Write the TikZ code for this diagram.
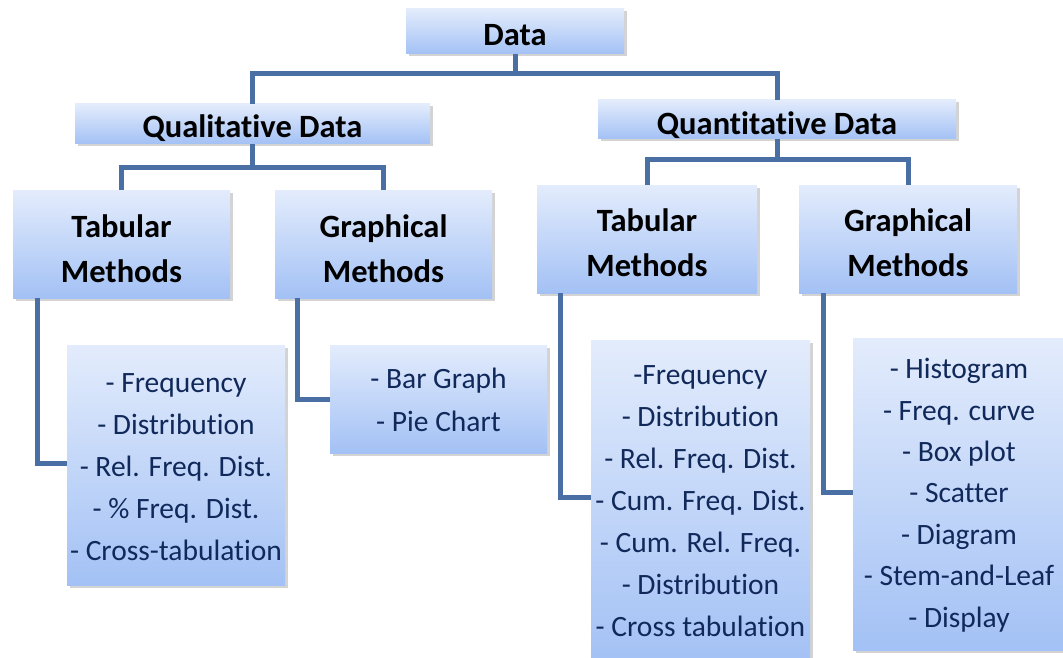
\documentclass[tikz,border=0pt]{standalone}
\usepackage{fontspec}
\setmainfont{Carlito}[Ligatures=NoCommon]
\usetikzlibrary{shadows}
\definecolor{linec}{HTML}{4A6FA5}
\definecolor{txt}{HTML}{10295A}
\definecolor{topc}{HTML}{E3ECFC}
\definecolor{botc}{HTML}{A3C1F5}
\begin{document}
\begin{tikzpicture}[x=1pt,y=-1pt,
 box/.style={draw=none, top color=topc, bottom color=botc,
   drop shadow={shadow xshift=2.5pt, shadow yshift=-2.5pt, opacity=0.35},
   inner sep=0pt, align=center},
 head/.style={box, font=\fontsize{32.5}{45}\selectfont\bfseries},
 items/.style={box, text=txt, font=\fontsize{29.5}{42}\selectfont},
 lastbase/.style={text height=#1, text depth=0pt},
 conn/.style={draw=linec, line width=5pt}]
\useasboundingbox (0,0) rectangle (1063,658);
% top levels
\node[head, lastbase=28pt, minimum width=218pt, minimum height=45pt] (data) at (515,31.5) {Data};
\node[head, lastbase=27pt, minimum width=355pt, minimum height=40pt] (qual) at (252.5,124) {Qualitative Data};
\node[head, lastbase=31pt, minimum width=358pt, minimum height=39pt] (quant) at (777,119.5) {Quantitative Data};
% methods
\node[head, lastbase=76pt, minimum width=217pt, minimum height=108pt] (tabL) at (121.5,244) {Tabular\\Methods};
\node[head, lastbase=76pt, minimum width=217pt, minimum height=108pt] (grL) at (383.5,244) {Graphical\\Methods};
\node[head, lastbase=74pt, minimum width=220pt, minimum height=108pt] (tabR) at (647,239) {Tabular\\Methods};
\node[head, lastbase=74pt, minimum width=218pt, minimum height=108pt] (grR) at (908,239) {Graphical\\Methods};
% item boxes
\node[items, lastbase=190pt, minimum width=218pt, minimum height=240pt] (itL) at (176,465)
 {- Frequency\\- Distribution\\- Rel. Freq. Dist.\\- \% Freq. Dist.\\- Cross-tabulation};
\node[items, lastbase=64pt, font=\fontsize{29.5}{43}\selectfont, minimum width=217pt, minimum height=108pt] (itB) at (438.5,399)
 {- Bar Graph\\- Pie Chart};
\node[items, lastbase=268pt, minimum width=219pt, minimum height=324pt] (itR) at (700.5,502)
 {-Frequency\\- Distribution\\- Rel. Freq. Dist.\\- Cum. Freq. Dist.\\- Cum. Rel. Freq.\\- Distribution\\- Cross tabulation};
\node[items, lastbase=266pt, font=\fontsize{29.5}{41.4}\selectfont, minimum width=212pt, minimum height=312pt] (itG) at (959,494)
 {- Histogram\\- Freq. curve\\- Box plot\\- Scatter\\- Diagram\\- Stem-and-Leaf\\- Display};
% connectors
\coordinate (j1) at (515,74);
\draw[conn] (data.south) -- (j1);
\draw[conn] (j1) -| (qual.north);
\draw[conn] (j1) -| (quant.north);
\coordinate (j2) at (252.5,168);
\draw[conn] (qual.south) -- (j2);
\draw[conn] (j2) -| (tabL.north);
\draw[conn] (j2) -| (grL.north);
\coordinate (j3) at (777,160);
\draw[conn] (quant.south) -- (j3);
\draw[conn] (j3) -| (tabR.north);
\draw[conn] (j3) -| (grR.north);
\draw[conn] ([xshift=-84.5pt]tabL.south) |- ([yshift=2pt]itL.west);
\draw[conn] ([xshift=-86.5pt]grL.south) |- (itB.west);
\draw[conn] ([xshift=-87pt]tabR.south) |- ([yshift=5pt]itR.west);
\draw[conn] ([xshift=-85pt]grR.south) |- ([yshift=2pt]itG.west);
\end{tikzpicture}
\end{document}
